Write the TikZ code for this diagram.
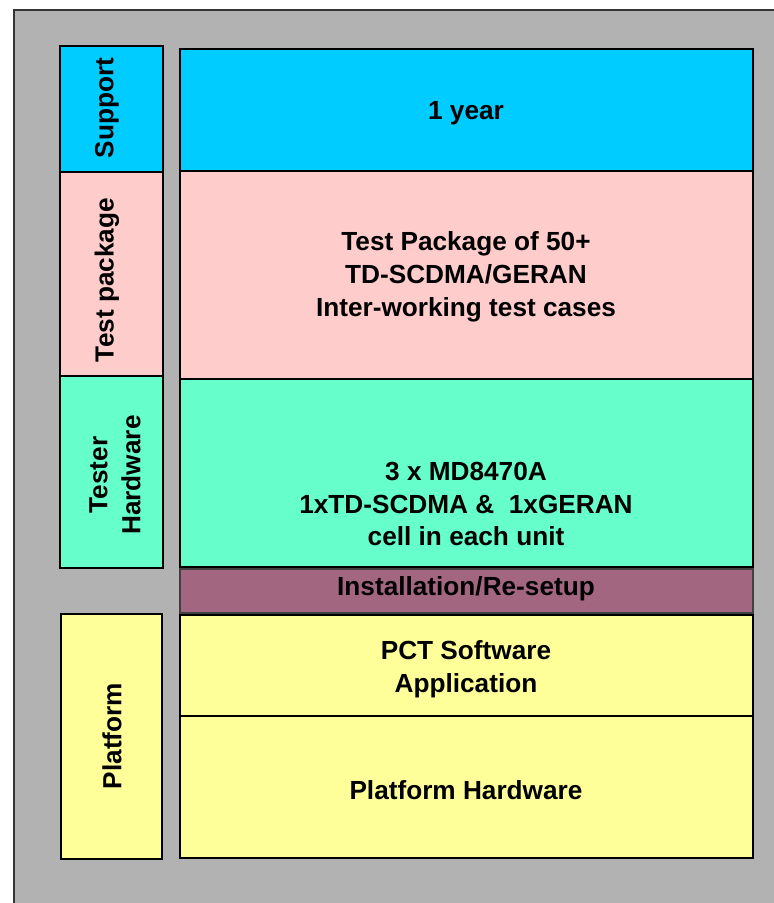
\documentclass[tikz,border=0pt]{standalone}
\usepackage{fontspec}
\setmainfont{Liberation Sans}
\definecolor{bg}{HTML}{B2B2B2}
\definecolor{frame}{HTML}{333333}
\definecolor{supc}{HTML}{00CCFF}
\definecolor{pkgc}{HTML}{FFCCCC}
\definecolor{hwc}{HTML}{66FFCC}
\definecolor{instc}{HTML}{A36680}
\definecolor{platc}{HTML}{FFFF99}

\begin{document}
\begin{tikzpicture}[x=1pt,y=-1pt,
    box/.style={rectangle,draw=black,line width=1.5pt,inner sep=0pt},
    lbox/.style={box,minimum width=103},
    rbox/.style={box,minimum width=573},
    txt/.style={font=\fontsize{26.2}{32.8}\selectfont\bfseries,align=center},
    side/.style={txt,rotate=90},
    ]
    \clip (0,0) rectangle (774,903);
    \useasboundingbox (0,0) rectangle (774,903);
    \draw[draw=frame,fill=bg,line width=2pt] (14,10) rectangle (800,930);
    % left column
    \node[lbox,fill=supc,minimum height=126] (sup) at (111.5,109) {};
    \node[lbox,fill=pkgc,minimum height=204] (tpk) at (111.5,274) {};
    \node[lbox,fill=hwc,minimum height=192] (thw) at (111.5,472) {};
    \node[lbox,fill=platc,minimum width=101,minimum height=245] (pfm) at (111.5,736.5) {};
    \node[side] (supt) at (107,108) {Support};
    \node[side] (tpkt) at (107,280) {Test package};
    \node[side] (thwt) at (115,475) {Tester\\Hardware};
    \node[side] (pfmt) at (112,736) {Platform};
    % right column
    \node[rbox,fill=supc,minimum height=122] (year) at (466.5,110) {};
    \node[rbox,fill=pkgc,minimum height=208] (pkg) at (466.5,275) {};
    \node[rbox,fill=hwc,minimum height=188] (hw) at (466.5,473) {};
    \node[rbox,fill=instc,draw=black!75,minimum height=44] (inst) at (466.5,591) {};
    \node[rbox,fill=platc,minimum height=101] (pct) at (466.5,665.5) {};
    \node[rbox,fill=platc,minimum height=142] (plat) at (466.5,787) {};
    \node[txt] (yeart) at (466,113) {1 year};
    \node[txt] (pkgt) at (466,277) {Test Package of 50+\\TD-SCDMA/GERAN\\Inter-working test cases};
    \node[txt] (hwt) at (466,504) {3 x MD8470A\\1xTD-SCDMA \&~ 1xGERAN\\cell in each unit};
    \node[txt] (instt) at (466,589) {Installation/Re-setup};
    \node[txt] (pctt) at (466,669) {PCT Software\\Application};
    \node[txt] (platt) at (466,790) {Platform Hardware};
\end{tikzpicture}
\end{document}
